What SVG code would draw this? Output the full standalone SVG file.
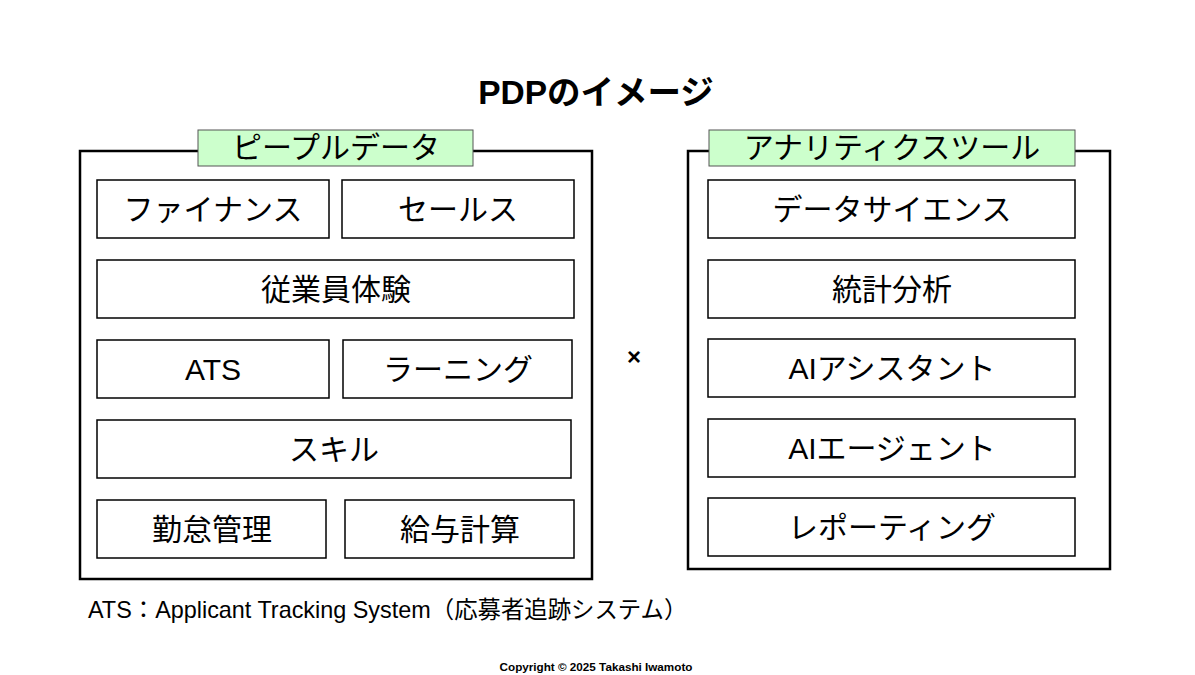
<svg xmlns="http://www.w3.org/2000/svg" width="1195" height="675" viewBox="0 0 1195 675">
<style>
text{font-family:"Liberation Sans","Noto Sans CJK JP",sans-serif;fill:#000}
.c{fill:none;stroke:#000;stroke-width:2.5}
.b{fill:#fff;stroke:#000;stroke-width:1.5}
.l{fill:#ccffcc;stroke:#555;stroke-width:1}
.t{font-size:30px;text-anchor:middle;dominant-baseline:central}
</style>
<rect width="1195" height="675" fill="#fff"/>
<text x="596" y="92" font-size="33.5" font-weight="bold" text-anchor="middle" dominant-baseline="central">PDPのイメージ</text>
<g id="people">
<rect class="c" x="80" y="151" width="512" height="428"/>
<rect class="l" x="198" y="130" width="275" height="36"/>
<text class="t" x="336" y="147">ピープルデータ</text>
</g>
<g id="analytics">
<rect class="c" x="688" y="151" width="422" height="418"/>
<rect class="l" x="709" y="130" width="366" height="36"/>
<text class="t" x="892" y="147">アナリティクスツール</text>
</g>
<g id="n1"><rect class="b" x="97" y="180" width="232" height="58"/><text class="t" x="213" y="209">ファイナンス</text></g>
<g id="n2"><rect class="b" x="342" y="180" width="232" height="58"/><text class="t" x="458" y="209">セールス</text></g>
<g id="n3"><rect class="b" x="97" y="260" width="477" height="58"/><text class="t" x="336" y="289">従業員体験</text></g>
<g id="n4"><rect class="b" x="97" y="340" width="232" height="58"/><text class="t" x="213" y="369">ATS</text></g>
<g id="n5"><rect class="b" x="343" y="340" width="229" height="58"/><text class="t" x="458" y="369">ラーニング</text></g>
<g id="n6"><rect class="b" x="97" y="420" width="474" height="58"/><text class="t" x="334" y="449">スキル</text></g>
<g id="n7"><rect class="b" x="97" y="500" width="229" height="58"/><text class="t" x="212" y="529">勤怠管理</text></g>
<g id="n8"><rect class="b" x="345" y="500" width="229" height="58"/><text class="t" x="460" y="529">給与計算</text></g>
<g id="r1"><rect class="b" x="708" y="180" width="367" height="58"/><text class="t" x="892" y="209">データサイエンス</text></g>
<g id="r2"><rect class="b" x="708" y="260" width="367" height="58"/><text class="t" x="892" y="289">統計分析</text></g>
<g id="r3"><rect class="b" x="708" y="339" width="367" height="58"/><text class="t" x="892" y="368">AIアシスタント</text></g>
<g id="r4"><rect class="b" x="708" y="419" width="367" height="58"/><text class="t" x="892" y="448">AIエージェント</text></g>
<g id="r5"><rect class="b" x="708" y="498" width="367" height="58"/><text class="t" x="892" y="527">レポーティング</text></g>
<g id="connectors"></g>
<text x="634" y="356" font-size="24" font-weight="bold" text-anchor="middle" dominant-baseline="central">×</text>
<text x="88" y="610" font-size="23.4" dominant-baseline="central">ATS：Applicant Tracking System（応募者追跡システム）</text>
<text x="596" y="666" font-size="11.7" font-weight="bold" text-anchor="middle" dominant-baseline="central">Copyright © 2025 Takashi Iwamoto</text>
</svg>
